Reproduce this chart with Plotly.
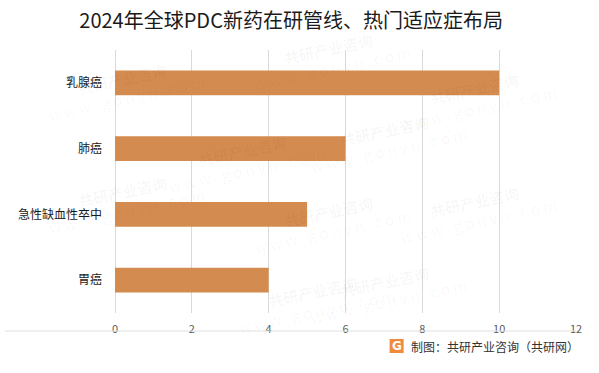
import plotly.graph_objects as go

categories = ["乳腺癌", "肺癌", "急性缺血性卒中", "胃癌"]
values = [10, 6, 5, 4]
x_ticks = [0, 2, 4, 6, 8, 10, 12]

FONT = "Noto Sans CJK SC, Microsoft YaHei, sans-serif"

fig = go.Figure(go.Bar(
    y=categories, x=values, orientation="h",
    marker=dict(color="#D48B4F", line=dict(width=0)),
    width=0.38,
    hoverinfo="x+y",
))

fig.update_layout(
    width=599, height=373,
    paper_bgcolor="white", plot_bgcolor="white",
    margin=dict(l=115, r=23, t=50, b=60, autoexpand=False),
    title=dict(text="2024年全球PDC新药在研管线、热门适应症布局",
               x=0.486, xanchor="center", y=0.945, yanchor="middle",
               font=dict(family=FONT, size=20, color="#1a1a1a")),
    xaxis=dict(range=[0, 12], tickvals=x_ticks, showgrid=True,
               gridcolor="#D9D9D9", gridwidth=1, zeroline=True,
               zerolinecolor="#D9D9D9", zerolinewidth=1, showline=False,
               ticks="", tickfont=dict(family=FONT, size=11, color="#595959"),
               ticklabelstandoff=8, fixedrange=True, automargin=False),
    yaxis=dict(categoryorder="array", categoryarray=categories[::-1],
               showgrid=False, showline=False, ticks="",
               tickfont=dict(family=FONT, size=12, color="#1a1a1a"),
               ticklabelstandoff=12, fixedrange=True, automargin=False),
    showlegend=False,
    font=dict(family=FONT),
)

# faint watermarks
wm = [(40, 60), (330, 30), (560, 70), (160, 170), (470, 150), (40, 250), (330, 270),
      (560, 260), (230, 350), (470, 340)]
for (px, py) in wm:
    fig.add_annotation(xref="paper", yref="paper",
                       x=(px - 115) / 460, y=(323 - py) / 263,
                       text="<b>共研产业咨询</b><br>w w w . g o n y n . c o m",
                       showarrow=False, textangle=-12,
                       font=dict(family=FONT, size=15, color="rgba(0,0,0,0.035)"))

# separator line
sep_y = (323 - 341) / 263
fig.add_shape(type="line", xref="paper", yref="paper", layer="above",
              x0=(5 - 115) / 460, x1=(575 - 115) / 460,
              y0=sep_y, y1=sep_y,
              line=dict(color="#E0E0E0", width=1))

# logo
lx0, lx1, ly0, ly1 = 389, 403, 349, 363
fig.add_shape(type="rect", xref="paper", yref="paper", layer="above",
              x0=(lx0 - 115) / 460, x1=(lx1 - 115) / 460,
              y0=(323 - ly1) / 263, y1=(323 - ly0) / 263,
              fillcolor="#F08A3C", line=dict(width=0))
fig.add_annotation(xref="paper", yref="paper",
                   x=(396 - 115) / 460, y=(323 - 356) / 263,
                   xanchor="center", yanchor="middle",
                   text="<b>G</b>", showarrow=False,
                   font=dict(family="DejaVu Sans", size=12, color="#FFFFFF"))

fig.add_annotation(xref="paper", yref="paper",
                   x=(580 - 115) / 460, y=(323 - 356) / 263,
                   xanchor="right", yanchor="middle",
                   text="制图：共研产业咨询（共研网）", showarrow=False,
                   font=dict(family=FONT, size=12, color="#333333"))

fig.write_html("out.html", config={"displayModeBar": False},
               post_script="document.body.style.margin='0';document.body.style.overflow='hidden';")
